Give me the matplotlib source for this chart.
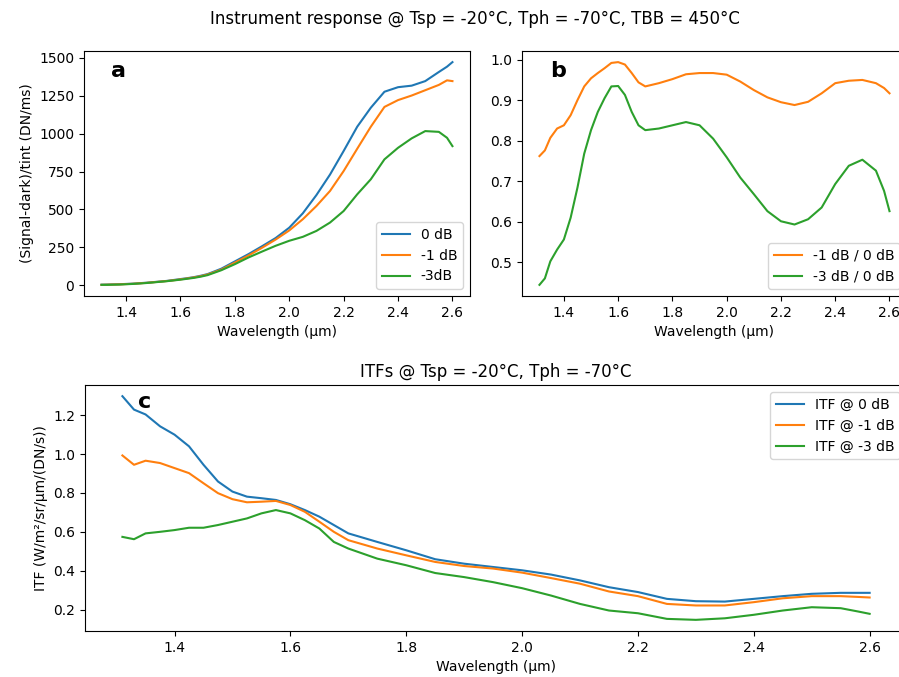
import numpy as np
import matplotlib
matplotlib.use('Agg')
import matplotlib.pyplot as plt

# wavelengths (um)
wl = [1.31, 1.33, 1.35, 1.375, 1.40, 1.425, 1.45, 1.475, 1.50, 1.525, 1.55, 1.575,
      1.60, 1.625, 1.65, 1.675, 1.70, 1.75, 1.80, 1.85, 1.90, 1.95, 2.00, 2.05,
      2.10, 2.15, 2.20, 2.25, 2.30, 2.35, 2.40, 2.45, 2.50, 2.55, 2.58, 2.60]

# panel a: (signal-dark)/tint in DN/ms
sig_0db = [5, 6, 7, 8, 10, 12, 15, 18, 22, 26, 30, 36,
           42, 48, 55, 64, 75, 110, 158, 206, 258, 312, 380, 475,
           595, 730, 885, 1045, 1170, 1275, 1305, 1315, 1345, 1405, 1440, 1470]
sig_1db = [4, 5, 6, 7, 9, 11, 14, 17, 21, 25, 29, 34,
           40, 46, 53, 61, 72, 104, 150, 197, 248, 302, 362, 436,
           523, 622, 753, 900, 1045, 1175, 1220, 1250, 1285, 1320, 1350, 1345]
sig_3db = [4, 4, 5, 6, 8, 10, 13, 16, 20, 24, 28, 33,
           38, 44, 50, 58, 68, 100, 140, 184, 223, 261, 294, 320,
           359, 414, 490, 600, 699, 830, 906, 968, 1016, 1011, 972, 917]

# panel b: ratios
ratio_1db = [0.762, 0.776, 0.807, 0.830, 0.838, 0.863, 0.900, 0.934, 0.954, 0.967, 0.979, 0.992,
             0.994, 0.988, 0.967, 0.944, 0.934, 0.942, 0.952, 0.964, 0.967, 0.967, 0.963, 0.946,
             0.925, 0.907, 0.895, 0.888, 0.896, 0.917, 0.942, 0.948, 0.950, 0.942, 0.930, 0.917]
ratio_3db = [0.444, 0.460, 0.502, 0.531, 0.556, 0.610, 0.684, 0.768, 0.826, 0.871, 0.905, 0.934,
             0.935, 0.913, 0.871, 0.838, 0.826, 0.830, 0.838, 0.846, 0.838, 0.805, 0.759, 0.709,
             0.668, 0.626, 0.601, 0.593, 0.606, 0.635, 0.693, 0.738, 0.753, 0.726, 0.676, 0.626]

# panel c: ITFs
itf_0db = [1.298, 1.229, 1.204, 1.143, 1.100, 1.040, 0.945, 0.859, 0.807, 0.781, 0.773, 0.764,
           0.742, 0.712, 0.678, 0.635, 0.592, 0.548, 0.505, 0.459, 0.436, 0.419, 0.402, 0.380,
           0.350, 0.315, 0.290, 0.255, 0.243, 0.241, 0.255, 0.269, 0.281, 0.286, 0.286, 0.286]
itf_1db = [0.993, 0.945, 0.966, 0.954, 0.928, 0.902, 0.850, 0.799, 0.768, 0.752, 0.755, 0.759,
           0.738, 0.703, 0.652, 0.600, 0.557, 0.514, 0.479, 0.445, 0.424, 0.411, 0.390, 0.362,
           0.333, 0.293, 0.269, 0.229, 0.221, 0.221, 0.238, 0.258, 0.269, 0.269, 0.265, 0.262]
itf_3db = [0.574, 0.562, 0.592, 0.600, 0.609, 0.621, 0.621, 0.635, 0.652, 0.669, 0.695, 0.712,
           0.695, 0.660, 0.617, 0.548, 0.514, 0.462, 0.428, 0.388, 0.367, 0.341, 0.310, 0.272,
           0.229, 0.195, 0.181, 0.152, 0.147, 0.155, 0.173, 0.195, 0.212, 0.207, 0.190, 0.178]

c0, c1, c2 = '#1f77b4', '#ff7f0e', '#2ca02c'

fig = plt.figure(figsize=(8.99, 6.77), dpi=100)
fig.suptitle('Instrument response @ Tsp = -20°C, Tph = -70°C, TBB = 450°C',
             x=0.528, y=0.985, fontsize=12)

ax = fig.add_axes([0.0934, 0.5628, 0.4294, 0.3619])
ax.plot(wl, sig_0db, color=c0, label='0 dB')
ax.plot(wl, sig_1db, color=c1, label='-1 dB')
ax.plot(wl, sig_3db, color=c2, label='-3dB')
ax.set_xticks(np.arange(1.4, 2.61, 0.2))
ax.set_xlabel('Wavelength (µm)')
ax.set_ylabel('(Signal-dark)/tint (DN/ms)')
ax.legend(loc='lower right')
ax.text(0.07, 0.92, 'a', transform=ax.transAxes, fontsize=16, fontweight='bold', va='center')

ax = fig.add_axes([0.5806, 0.5628, 0.4283, 0.3619])
ax.plot(wl, ratio_1db, color=c1, label='-1 dB / 0 dB')
ax.plot(wl, ratio_3db, color=c2, label='-3 dB / 0 dB')
ax.set_xticks(np.arange(1.4, 2.61, 0.2))
ax.set_xlabel('Wavelength (µm)')
ax.legend(loc='lower right')
ax.text(0.073, 0.92, 'b', transform=ax.transAxes, fontsize=16, fontweight='bold', va='center')

ax = fig.add_axes([0.0946, 0.0679, 0.9143, 0.3634])
ax.plot(wl, itf_0db, color=c0, label='ITF @ 0 dB')
ax.plot(wl, itf_1db, color=c1, label='ITF @ -1 dB')
ax.plot(wl, itf_3db, color=c2, label='ITF @ -3 dB')
ax.set_xticks(np.arange(1.4, 2.61, 0.2))
ax.set_xlabel('Wavelength (µm)')
ax.set_ylabel('ITF (W/m²/sr/µm/(DN/s))')
ax.set_title('ITFs @ Tsp = -20°C, Tph = -70°C')
ax.legend(loc='upper right')
ax.text(0.065, 0.93, 'c', transform=ax.transAxes, fontsize=16, fontweight='bold', va='center')

fig.savefig('out.png', dpi=100)
